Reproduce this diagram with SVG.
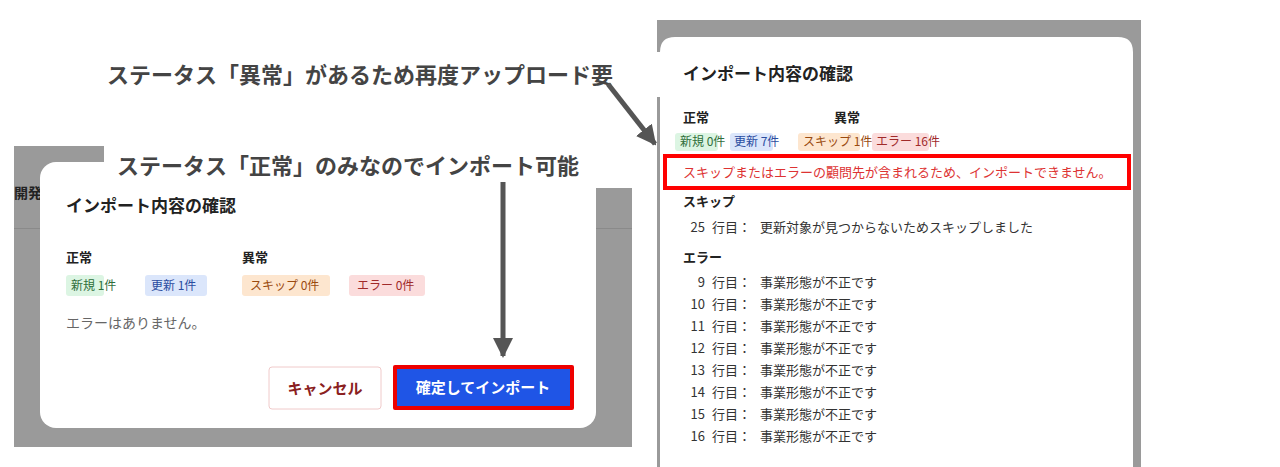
<svg xmlns="http://www.w3.org/2000/svg" width="1280" height="467" viewBox="0 0 1280 467">
<style>
text{font-family:"Noto Sans CJK JP","Noto Sans",sans-serif;fill:#222}
.ann{font-size:22px;font-weight:bold;fill:#444}
.h{font-size:17px;font-weight:bold}
.s{font-size:13px;font-weight:bold}
.b{font-size:12px}
.r{font-size:13px;fill:#333}
.num{text-anchor:end}
</style>
<defs>
<marker id="ah" viewBox="0 0 10 10" refX="9" refY="5" markerWidth="4" markerHeight="4" orient="auto"><path d="M0,0L10,5L0,10z" fill="#555"/></marker>
</defs>
<rect width="1280" height="467" fill="#fff"/>
<g id="left-panel">
<rect x="14" y="146" width="618" height="301" fill="#9a9a9a"/>
<rect x="14" y="228" width="618" height="1" fill="#8a8a8a"/>
<text x="14" y="198" font-size="14" font-weight="bold" fill="#333">開発</text>
<rect x="40" y="162" width="556" height="266" rx="16" fill="#fff"/>
<text class="h" x="66" y="212">インポート内容の確認</text>
<text class="s" x="66" y="262">正常</text>
<text class="s" x="242" y="262">異常</text>
<rect x="66" y="275" width="38" height="21" rx="3" fill="#dcf5e3"/><text class="b" x="71" y="290" style="fill:#2f6e3a">新規 1件</text>
<rect x="145" y="275" width="62" height="21" rx="3" fill="#dbe6fb"/><text class="b" x="151" y="290" style="fill:#2a4ca0">更新 1件</text>
<rect x="242" y="275" width="88" height="21" rx="3" fill="#fde6cf"/><text class="b" x="250" y="290" style="fill:#9a4a10">スキップ 0件</text>
<rect x="349" y="275" width="76" height="21" rx="3" fill="#fbdcdc"/><text class="b" x="357" y="290" style="fill:#a02a2a">エラー 0件</text>
<text x="66" y="328" font-size="14" style="fill:#666">エラーはありません。</text>
<rect x="269" y="367" width="112" height="42" rx="3" fill="#fff" stroke="#f0caca"/>
<text x="325" y="394" font-size="15" font-weight="bold" text-anchor="middle" style="fill:#8a2020">キャンセル</text>
<rect x="393" y="365" width="181" height="45" fill="#e00" rx="2"/>
<rect x="397" y="369" width="173" height="37" fill="#1f55e6"/>
<text x="483" y="393" font-size="15" font-weight="bold" text-anchor="middle" style="fill:#fff">確定してインポート</text>
<rect x="104" y="146" width="528" height="42" fill="#fff"/>
<text class="ann" x="117" y="174">ステータス「正常」のみなのでインポート可能</text>
</g>
<g id="right-panel">
<rect x="657" y="20" width="484" height="447" fill="#9a9a9a"/>
<path d="M660,467V52Q660,37 675,37H1118Q1133,37 1133,52V467z" fill="#fff"/>
<text class="h" x="683" y="80" font-size="16">インポート内容の確認</text>
<text class="s" x="683" y="122">正常</text>
<text class="s" x="834" y="122">異常</text>
<rect x="675" y="133" width="43" height="18" rx="3" fill="#dcf5e3"/><text class="b" x="680" y="146" font-size="11" style="fill:#2f6e3a">新規 0件</text>
<rect x="730" y="133" width="43" height="18" rx="3" fill="#dbe6fb"/><text class="b" x="734" y="146" font-size="11" style="fill:#2a4ca0">更新 7件</text>
<rect x="798" y="133" width="62" height="18" rx="3" fill="#fde6cf"/><text class="b" x="803" y="146" font-size="11" style="fill:#9a4a10">スキップ 1件</text>
<rect x="872" y="133" width="57" height="18" rx="3" fill="#fbdcdc"/><text class="b" x="876" y="146" font-size="11" style="fill:#a02a2a">エラー 16件</text>
<rect x="665" y="156" width="464" height="32" fill="none" stroke="#f00" stroke-width="4"/>
<text x="683" y="177" font-size="13" style="fill:#d33">スキップまたはエラーの顧問先が含まれるため、インポートできません。</text>
<text class="s" x="683" y="206">スキップ</text>
<text class="r num" x="705" y="232">25</text><text class="r" x="712" y="232">行目：</text><text class="r" x="760" y="232">更新対象が見つからないためスキップしました</text>
<text class="s" x="683" y="262">エラー</text>
<g class="rows">
<text class="r num" x="705" y="287">9</text><text class="r" x="712" y="287">行目：</text><text class="r" x="760" y="287">事業形態が不正です</text>
<text class="r num" x="705" y="309">10</text><text class="r" x="712" y="309">行目：</text><text class="r" x="760" y="309">事業形態が不正です</text>
<text class="r num" x="705" y="331">11</text><text class="r" x="712" y="331">行目：</text><text class="r" x="760" y="331">事業形態が不正です</text>
<text class="r num" x="705" y="353">12</text><text class="r" x="712" y="353">行目：</text><text class="r" x="760" y="353">事業形態が不正です</text>
<text class="r num" x="705" y="375">13</text><text class="r" x="712" y="375">行目：</text><text class="r" x="760" y="375">事業形態が不正です</text>
<text class="r num" x="705" y="397">14</text><text class="r" x="712" y="397">行目：</text><text class="r" x="760" y="397">事業形態が不正です</text>
<text class="r num" x="705" y="419">15</text><text class="r" x="712" y="419">行目：</text><text class="r" x="760" y="419">事業形態が不正です</text>
<text class="r num" x="705" y="441">16</text><text class="r" x="712" y="441">行目：</text><text class="r" x="760" y="441">事業形態が不正です</text>
</g>
<rect x="100" y="52" width="568" height="45" fill="#fff"/>
<text class="ann" x="107" y="83">ステータス「異常」があるため再度アップロード要</text>
</g>
<g id="connectors" stroke="#555" stroke-width="5" fill="none">
<line x1="503" y1="182" x2="503" y2="356" marker-end="url(#ah)"/>
<line x1="608" y1="84" x2="655" y2="144" marker-end="url(#ah)"/>
</g>
</svg>
